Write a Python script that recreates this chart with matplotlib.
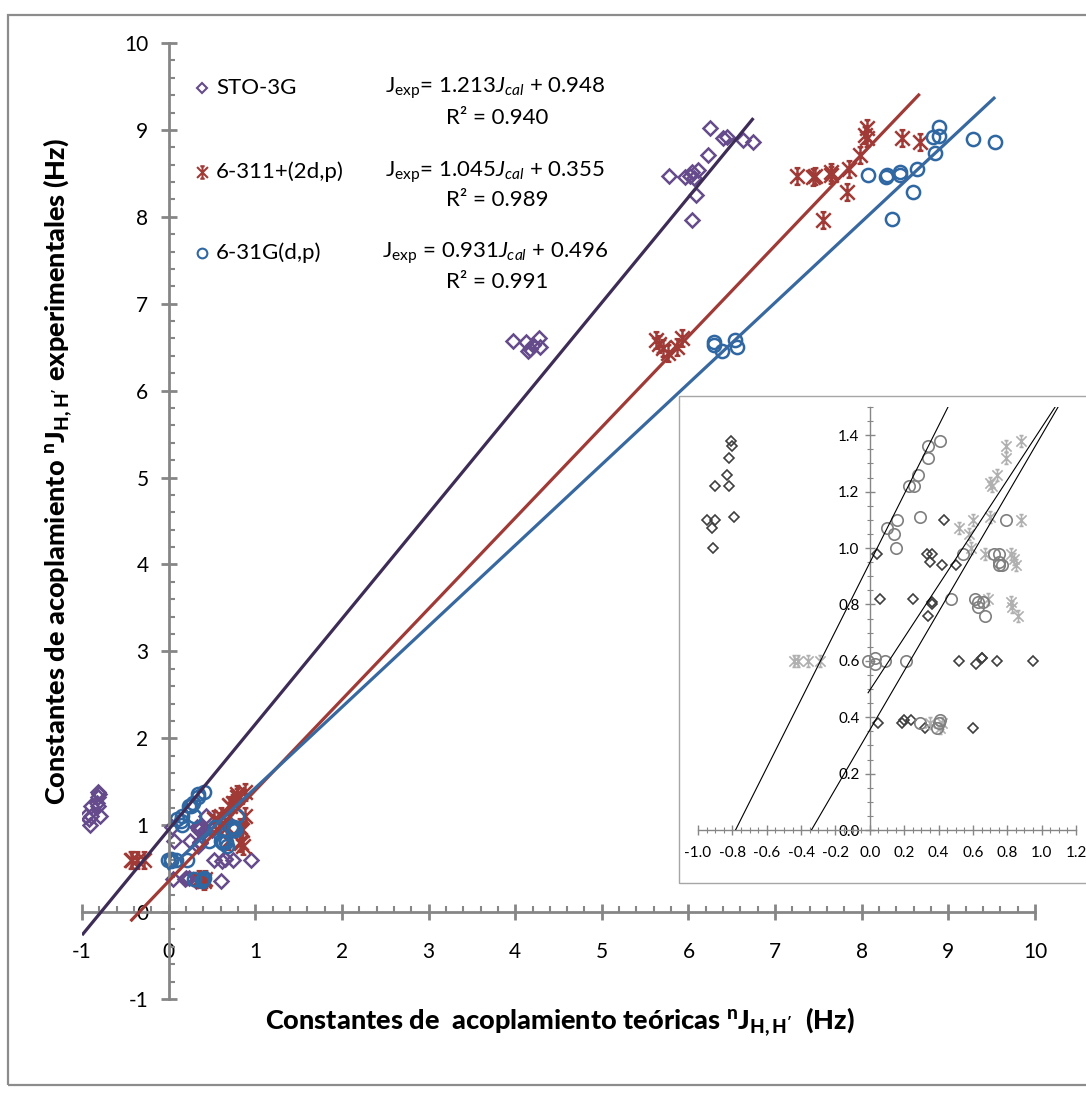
import matplotlib
matplotlib.use('Agg')
import matplotlib.pyplot as plt
import numpy as np
from matplotlib.path import Path
from matplotlib.patches import Rectangle
from matplotlib.ticker import MultipleLocator, FormatStrFormatter

plt.rcParams['font.family'] = ['Lato', 'DejaVu Sans']
plt.rcParams['mathtext.fontset'] = 'custom'
plt.rcParams['mathtext.rm'] = 'Lato'
plt.rcParams['mathtext.it'] = 'Lato:italic'
plt.rcParams['mathtext.bf'] = 'Lato:black'
plt.rcParams['axes.unicode_minus'] = False

# STO-3G  (calculated, experimental)
sto_x = [-0.81, -0.80, -0.82, -0.83, -0.90, -0.82, -0.79, -0.95, -0.90, -0.92, -0.91,
         0.04, 0.06, 0.05, 0.19, 0.20, 0.24, 0.32, 0.25, 0.33, 0.36, 0.35, 0.34, 0.36,
         0.36, 0.43, 0.42, 0.50, 0.52, 0.62, 0.65, 0.65, 0.74, 0.95, 0.60,
         3.98, 4.12, 4.28, 4.29, 4.15, 4.17, 4.20,
         6.25, 6.40, 6.44, 6.63, 6.75, 6.23, 5.77, 5.96, 6.04, 6.02, 6.11, 6.06, 6.09, 6.04]
sto_y = [1.38, 1.36, 1.32, 1.26, 1.22, 1.22, 1.11, 1.10, 1.10, 1.07, 1.00,
         0.98, 0.82, 0.38, 0.38, 0.39, 0.39, 0.36, 0.82, 0.98, 0.98, 0.95, 0.76, 0.81,
         0.80, 1.10, 0.94, 0.94, 0.60, 0.59, 0.61, 0.61, 0.60, 0.60, 0.36,
         6.57, 6.56, 6.60, 6.50, 6.46, 6.48, 6.53,
         9.02, 8.91, 8.92, 8.88, 8.86, 8.71, 8.47, 8.46, 8.52, 8.47, 8.54, 8.45, 8.25, 7.96]

# 6-311+(2d,p)
b311_x = [0.88, 0.79, 0.79, 0.74, 0.70, 0.71, 0.60, 0.70, 0.88, 0.52,
          0.58, 0.59, 0.67, 0.82, 0.84, 0.85, 0.69, 0.82, 0.83, 0.86,
          -0.44, -0.42, -0.36, -0.29, 0.35, 0.42, 0.41,
          5.62, 5.66, 5.71, 5.76, 5.93, 5.87,
          7.25, 7.44, 7.46, 7.64, 7.65, 7.85, 7.83, 7.98, 8.06, 8.04, 8.06, 8.47, 8.67, 7.55]
b311_y = [1.38, 1.36, 1.32, 1.26, 1.23, 1.22, 1.10, 1.11, 1.10, 1.07,
          1.05, 1.00, 0.98, 0.98, 0.96, 0.94, 0.82, 0.81, 0.79, 0.76,
          0.60, 0.60, 0.60, 0.60, 0.38, 0.38, 0.36,
          6.58, 6.54, 6.49, 6.43, 6.60, 6.50,
          8.47, 8.46, 8.47, 8.52, 8.48, 8.55, 8.29, 8.71, 9.02, 8.94, 8.91, 8.91, 8.86, 7.96]

# 6-31G(d,p)
b631_x = [0.41, 0.34, 0.34, 0.28, 0.23, 0.26, 0.29, 0.16, 0.10, 0.14,
          0.15, 0.54, 0.79, 0.72, 0.75, 0.75, 0.77, 0.75, 0.47, 0.61,
          0.63, 0.66, 0.63, 0.67, -0.01, 0.03, 0.03, 0.09, 0.21, 0.29,
          0.40, 0.39, 0.41,
          6.29, 6.30, 6.39, 6.54, 6.56,
          8.07, 8.28, 8.29, 8.44, 8.44, 8.64, 8.59, 8.85, 8.35, 8.89, 8.82, 8.89, 9.28, 9.54]
b631_y = [1.38, 1.36, 1.32, 1.26, 1.22, 1.22, 1.11, 1.10, 1.07, 1.05,
          1.00, 0.98, 1.10, 0.98, 0.98, 0.95, 0.94, 0.94, 0.82, 0.82,
          0.81, 0.81, 0.79, 0.76, 0.60, 0.61, 0.59, 0.60, 0.60, 0.38,
          0.38, 0.36, 0.39,
          6.56, 6.52, 6.46, 6.58, 6.50,
          8.48, 8.46, 8.48, 8.52, 8.48, 8.55, 8.29, 8.73, 7.97, 9.03, 8.92, 8.93, 8.89, 8.86]

labels = ['STO-3G', '6-311+(2d,p)', '6-31G(d,p)']
slopes = [1.213, 1.045, 0.931]
intercepts = [0.948, 0.355, 0.496]
r2 = [0.940, 0.989, 0.991]
fit_start = [-1.0, -0.44, -0.01]

# Excel-like star marker: X + vertical bar with caps
star = Path([(-1, -1), (1, 1), (-1, 1), (1, -1), (0, -1.15), (0, 1.15),
             (-0.4, 1.15), (0.4, 1.15), (-0.4, -1.15), (0.4, -1.15)],
            [Path.MOVETO, Path.LINETO] * 5)

mk_col = ['#664b8c', '#a03a36', '#2f67a3']
ln_col = ['#3d2c55', '#a03a36', '#3868a0']
gray_col = ['#3f3f3f', '#b0b0b0', '#7f7f7f']
markers = ['D', star, 'o']
sizes = [7, 12, 9.5]
in_sizes = [5.2, 8.5, 8.2]
series = [(sto_x, sto_y), (b311_x, b311_y), (b631_x, b631_y)]

W, H = 1086, 1100
fig = plt.figure(figsize=(W / 100, H / 100), dpi=100)

# outer frame
fig.add_artist(Rectangle((8 / W, 1 - 1085 / H), 2.0, (1085 - 15) / H, transform=fig.transFigure,
                         fill=False, edgecolor='#8c8c8c', lw=1.6))

ax = fig.add_axes([82 / W, 1 - 999 / H, (1035 - 82) / W, (999 - 43) / H])
ax.set_xlim(-1, 10)
ax.set_ylim(-1, 10)
for sp in ['top', 'right']:
    ax.spines[sp].set_visible(False)
ax.spines['left'].set_position(('data', 0))
ax.spines['bottom'].set_position(('data', 0))
for sp in ['left', 'bottom']:
    ax.spines[sp].set_color('#868686')
    ax.spines[sp].set_linewidth(2)
ax.xaxis.set_major_locator(MultipleLocator(1))
ax.yaxis.set_major_locator(MultipleLocator(1))
ax.xaxis.set_minor_locator(MultipleLocator(0.2))
ax.yaxis.set_minor_locator(MultipleLocator(0.2))
ax.tick_params(which='major', direction='inout', length=11, width=2, color='#868686',
               labelsize=15, pad=16)
ax.tick_params(axis='y', which='major', pad=9)
ax.tick_params(which='minor', direction='in', length=4, width=1.5, color='#868686')
ax.patch.set_alpha(0)

for i, (x, y) in enumerate(series):
    ax.plot(x, y, linestyle='none', marker=markers[i], ms=sizes[i], mfc='none',
            mec=mk_col[i], mew=1.8, zorder=2)
for i, (x, y) in enumerate(series):
    xs = np.array([fit_start[i], max(x)])
    ax.plot(xs, slopes[i] * xs + intercepts[i], color=ln_col[i], lw=2.3, zorder=3,
            solid_capstyle='butt')

# legend and equations
leg_y = [88, 172, 253]
r2_y = [118, 200, 282]
eq_fmt = [r'J$_{\mathrm{exp}}$= {a}$J_{cal}$ + {b}', r'J$_{\mathrm{exp}}$= {a}$J_{cal}$ + {b}',
          r'J$_{\mathrm{exp}}$ = {a}$J_{cal}$ + {b}']
for i in range(3):
    fy = 1 - leg_y[i] / H
    ax.plot([202 / W], [fy], transform=fig.transFigure, clip_on=False, linestyle='none',
            marker=markers[i], ms=[5.5, 9, 7][i], mfc='none', mec=mk_col[i], mew=1.5)
    fig.text(216 / W, fy, labels[i], ha='left', va='center', fontsize=16)
    eq = eq_fmt[i].replace('{a}', '%.3f' % slopes[i]).replace('{b}', '%.3f' % intercepts[i])
    fig.text(495 / W, fy, eq, ha='center', va='center', fontsize=16)
    fig.text(497 / W, 1 - r2_y[i] / H, 'R² = %.3f' % r2[i], ha='center', va='center', fontsize=16)

fig.text(58 / W, 1 - 472 / H,
         r"Constantes de acoplamiento $^{\mathbf{n}}\mathbf{J}_{\mathbf{H,H'}}$ experimentales (Hz)",
         rotation=90, ha='center', va='center', fontsize=19.5, fontweight='black')
fig.text(560 / W, 1 - 1022 / H,
         r"Constantes de  acoplamiento teóricas $^{\mathbf{n}}\mathbf{J}_{\mathbf{H,H'}}$  (Hz)",
         ha='center', va='center', fontsize=19.5, fontweight='black')

# inset
fig.add_artist(Rectangle((679 / W, 1 - 883 / H), 1.0, (883 - 396) / H, transform=fig.transFigure,
                         facecolor='white', edgecolor='#a6a6a6', lw=1.0, zorder=5))
ins = fig.add_axes([698 / W, 1 - 830 / H, (1076 - 698) / W, (830 - 407) / H], zorder=6)
ins.patch.set_alpha(0)
ins.set_xlim(-1.0, 1.2)
ins.set_ylim(0, 1.5)
for sp in ['top', 'right']:
    ins.spines[sp].set_visible(False)
ins.spines['left'].set_position(('data', 0))
ins.spines['bottom'].set_position(('data', 0))
for sp in ['left', 'bottom']:
    ins.spines[sp].set_color('#868686')
    ins.spines[sp].set_linewidth(1)
ins.xaxis.set_major_locator(MultipleLocator(0.2))
ins.yaxis.set_major_locator(MultipleLocator(0.2))
ins.xaxis.set_minor_locator(MultipleLocator(0.05))
ins.yaxis.set_minor_locator(MultipleLocator(0.05))
ins.xaxis.set_major_formatter(FormatStrFormatter('%.1f'))
ins.yaxis.set_major_formatter(FormatStrFormatter('%.1f'))
ins.tick_params(which='major', direction='inout', length=7, width=1, color='#868686',
                labelsize=11, pad=8)
ins.tick_params(axis='y', which='major', pad=4)
ins.tick_params(which='minor', direction='inout', length=4, width=0.8, color='#868686')

for i, (x, y) in enumerate(series):
    ins.plot(x, y, linestyle='none', marker=markers[i], ms=in_sizes[i], mfc='none',
             mec=gray_col[i], mew=1.2, zorder=2)
for i, (x, y) in enumerate(series):
    xs = np.array([fit_start[i], max(x)])
    ins.plot(xs, slopes[i] * xs + intercepts[i], color='black', lw=0.8, zorder=3)

fig.savefig('out.png', dpi=100)
